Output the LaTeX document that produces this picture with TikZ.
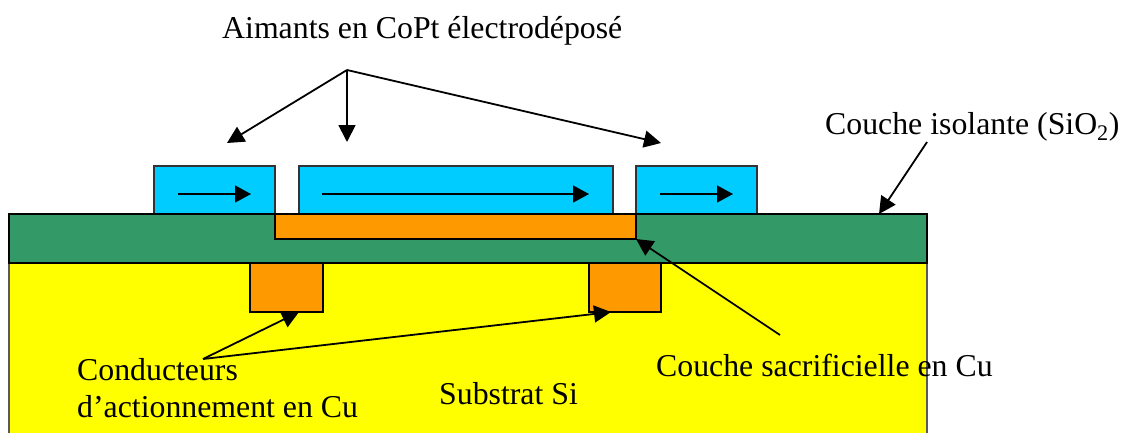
\documentclass[tikz,border=0pt]{standalone}
\usepackage{fontspec}
\setmainfont{Liberation Serif}
\usetikzlibrary{arrows.meta}
\definecolor{cblue}{RGB}{0,204,255}
\definecolor{cgreen}{RGB}{51,153,102}
\definecolor{corange}{RGB}{255,153,0}
\definecolor{cyell}{RGB}{255,255,0}
\tikzset{
  layer/.style={draw=black,line width=1.5pt,inner sep=0pt,outer sep=0pt,anchor=north west},
  lbl/.style={anchor=base west,inner sep=0pt,font=\fontsize{31.8}{36}\selectfont,text=black},
  conn/.style={line width=1.8pt,-{Triangle[length=17pt,width=17pt]}},
  inarrow/.style={line width=1.5pt,-{Triangle[length=16pt,width=17pt]}}
}
\begin{document}
\begin{tikzpicture}[x=1pt,y=-1pt]
\useasboundingbox (0,0) rectangle (1129,432);
\begin{scope}
\clip (0,0) rectangle (1129,432);
\node[layer,draw=black!65,line width=1.2pt,fill=cyell,minimum width=918pt,minimum height=175pt] (substrat) at (9,263) {};
\end{scope}
\node[layer,fill=corange,minimum width=73pt,minimum height=49pt] (condA) at (250,263) {};
\node[layer,fill=corange,minimum width=72pt,minimum height=49pt] (condB) at (589,263) {};
\node[layer,fill=cgreen,minimum width=918pt,minimum height=49pt] (isol) at (9,214) {};
\node[layer,fill=corange,minimum width=361pt,minimum height=25pt] (sacr) at (275,214) {};
\node[layer,draw=black!80,fill=cblue,minimum width=121pt,minimum height=48pt] (magA) at (154,166) {};
\node[layer,draw=black!80,fill=cblue,minimum width=314pt,minimum height=48pt] (magB) at (299,166) {};
\node[layer,draw=black!80,fill=cblue,minimum width=121pt,minimum height=48pt] (magC) at (636,166) {};
\draw[black,line width=1.5pt] (isol.north west) -- (isol.north east);
% in-magnet arrows
\coordinate (a1) at (178,194); \coordinate (a2) at (251,194);
\coordinate (b1) at (322,194); \coordinate (b2) at (589,194);
\coordinate (c1) at (660,194); \coordinate (c2) at (733,194);
\draw[inarrow] (a1) -- (a2);
\draw[inarrow] (b1) -- (b2);
\draw[inarrow] (c1) -- (c2);
% labels
\node[lbl] (aimants) at (222,38) {Aimants en CoPt électrodéposé};
\node[lbl] (isoltxt) at (825,134) {Couche isolante (SiO\textsubscript{2})};
\node[lbl] (sacrtxt) at (656,376) {Couche sacrificielle en Cu};
\node[lbl] (cond1) at (77,380) {Conducteurs};
\node[lbl] (cond2) at (77,417) {d’actionnement en Cu};
\node[lbl] (subtxt) at (439,404) {Substrat Si};
% connectors
\coordinate (apex) at (347,70);
\coordinate (t1) at (227,143); \coordinate (t2) at (347,142); \coordinate (t3) at (661,143);
\draw[conn] (apex) -- (t1);
\draw[conn] (apex) -- (t2);
\draw[conn] (apex) -- (t3);
\coordinate (is) at (927,142);
\coordinate (isend) at (879,214);
\draw[conn] (is) -- (isend);
\coordinate (sa) at (780,335);
\draw[conn] (sa) -- (sacr.south east);
\coordinate (co) at (203,359);
\coordinate (ca) at (299,312);
\coordinate (cb) at (611,312);
\draw[conn] (co) -- (ca);
\draw[conn] (co) -- (cb);
\end{tikzpicture}
\end{document}
